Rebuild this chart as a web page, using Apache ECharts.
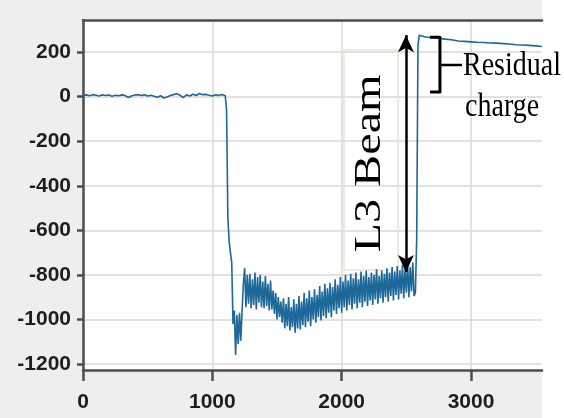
<!DOCTYPE html>
<html>
<head>
<meta charset="utf-8">
<script src="https://cdn.jsdelivr.net/npm/echarts@6/dist/echarts.min.js"></script>
<style>
  html, body { margin: 0; padding: 0; background: #ffffff; }
  #chart { width: 564px; height: 418px; }
</style>
</head>
<body>
<div id="chart"></div>
<script>
// Signal before the beam arrives (sampled every 25 time units from 0)
const baselineStart = 0;
const baselineStep = 25;
const baselineSignal = [5, 8, 4, 9, 6, 3, 8, 5, 7, 2, 6, 4, 8, 5, -4, 3, 7, 9, 5, 8,
  3, 6, 2, -3, 4, -6, -2, 5, 9, 13, 6, -4, 8, 3, 11, 5, 14, 9, 10, 6, 3, 8, 5, 10, 4];

// Signal while the L3 beam passes (sampled every 10 time units from 1110)
const beamStart = 1110;
const beamStep = 10;
const beamSignal = [
  -60, -540, -650, -700, -745, -1020, -960, -1160, -980, -1110,
  -970, -1095, -960, -840, -770, -945, -800, -930, -795, -950,
  -820, -935, -790, -955, -810, -925, -800, -945, -830, -950,
  -805, -940, -840, -960, -825, -955, -870, -975, -880, -1000,
  -900, -990, -920, -1015, -905, -1040, -930, -1030, -900, -1050,
  -945, -1035, -910, -1060, -930, -1040, -895, -1045, -920, -1025,
  -880, -1035, -905, -1010, -870, -1030, -900, -1000, -865, -1015,
  -890, -990, -850, -1005, -875, -985, -840, -995, -860, -970,
  -835, -990, -855, -960, -820, -975, -845, -950, -810, -970,
  -830, -945, -800, -960, -825, -935, -795, -955, -815, -930,
  -790, -950, -820, -925, -785, -945, -805, -920, -780, -940,
  -810, -915, -790, -935, -800, -910, -775, -930, -805, -905,
  -780, -925, -795, -900, -770, -920, -790, -895, -765, -915,
  -785, -890, -760, -910, -780, -885, -755, -905, -770, -880,
  -750, -900, -765, -875, -745, -895, -880
];

// Recovery and residual charge after the beam
const residualTimes = [2580, 2590, 2600, 2650, 2700, 2750, 2800, 2850, 2900, 2950, 3000,
  3050, 3100, 3150, 3200, 3250, 3300, 3350, 3400, 3450, 3500, 3549];
const residualSignal = [-640, 230, 276, 268, 266, 262, 258, 255, 250, 248, 246,
  244, 243, 241, 240, 238, 236, 233, 232, 230, 228, 225];

// Tick labels
const xTicks = [0, 1000, 2000, 3000];
const yTicks = [-1200, -1000, -800, -600, -400, -200, 0, 200];

const points = [];
baselineSignal.forEach((v, i) => points.push([baselineStart + i * baselineStep, v]));
beamSignal.forEach((v, i) => points.push([beamStart + i * beamStep, v]));
residualSignal.forEach((v, i) => points.push([residualTimes[i], v]));

const X_MIN = 0, X_MAX = 3549;
const Y_MIN = -1227, Y_MAX = 344;

const labelFont = {
  fontFamily: "'Liberation Sans', Arial, sans-serif",
  fontWeight: 'bold',
  fontSize: 21,
  color: '#1e1e1e',
  formatter: (v) => String(v)
};
const axisStroke = { color: '#4d4d4d', width: 2.5 };
const serif = "'Liberation Serif', 'DejaVu Serif', serif";

const chart = echarts.init(document.getElementById('chart'), null, { renderer: 'canvas' });

chart.setOption({
  animation: false,
  backgroundColor: '#ffffff',
  grid: {
    left: 83, right: 22, top: 20, bottom: 48,
    outerBoundsMode: 'none', containLabel: false,
    show: true, backgroundColor: '#ffffff', borderWidth: 0
  },
  xAxis: [{
    type: 'value', min: X_MIN, max: X_MAX,
    axisLine: { show: true, onZero: false, lineStyle: axisStroke },
    axisTick: { show: true, length: 11, customValues: xTicks, lineStyle: axisStroke },
    axisLabel: Object.assign({ margin: 22, customValues: xTicks }, labelFont),
    splitLine: { show: true, lineStyle: { color: '#d9d9d9', width: 1.5 } }
  }, {
    type: 'value', position: 'top', min: X_MIN, max: X_MAX,
    axisLine: { show: true, onZero: false, lineStyle: axisStroke },
    axisTick: { show: false }, axisLabel: { show: false }, splitLine: { show: false }
  }],
  yAxis: {
    type: 'value', min: Y_MIN, max: Y_MAX,
    axisLine: { show: true, onZero: false, lineStyle: axisStroke },
    axisTick: { show: true, length: 6, customValues: yTicks, lineStyle: axisStroke },
    axisLabel: Object.assign({ margin: 12, customValues: yTicks }, labelFont),
    splitLine: { show: true, lineStyle: { color: '#d9d9d9', width: 1.5 } }
  },
  series: [{
    type: 'line',
    data: points,
    showSymbol: false,
    sampling: null,
    lineStyle: { color: '#1d6899', width: 1.6 },
    z: 3,
    markArea: {
      silent: true,
      itemStyle: { color: 'rgba(0,0,0,0)', borderColor: '#ece3d2', borderWidth: 1.5 },
      data: [[{ coord: [2018, 209] }, { coord: [2436, -778] }]]
    },
    markLine: {
      silent: true,
      symbol: ['arrow', 'arrow'],
      symbolSize: [12, 17],
      label: { show: false },
      lineStyle: { color: '#000000', width: 2.5, type: 'solid' },
      data: [[{ coord: [2497, 276] }, { coord: [2497, -787] }]]
    }
  }]
});

// Text and bracket annotations, anchored in data space
const px = (t, v) => chart.convertToPixel({ xAxisIndex: 0, yAxisIndex: 0 }, [t, v]);
const beamLabel = px(2223, -300);
const brTop = px(2683, 267), brRight = px(2760, 142), brBottom = px(2683, 21), brTick = px(2930, 142);
const resLabel = px(2938, 137);
const chgLabel = px(2954, -47);

chart.setOption({
  graphic: [
    // light grey figure background up to the plot's right edge
    {
      type: 'rect', z: -10, silent: true,
      shape: { x: 0, y: 0, width: px(X_MAX, 0)[0], height: 418 },
      style: { fill: '#eeeeee' }
    },
    {
      type: 'text', x: beamLabel[0], y: beamLabel[1], rotation: Math.PI / 2, scaleX: 1.27, z: 10,
      style: { text: 'L3 Beam', font: '38px ' + serif, fill: '#000', align: 'center', verticalAlign: 'middle' }
    },
    {
      type: 'polyline', z: 10,
      shape: { points: [[brTop[0], brTop[1]], [brRight[0], brTop[1]], [brRight[0], brBottom[1]], [brTop[0], brBottom[1]]] },
      style: { stroke: '#000', lineWidth: 3, fill: null, lineJoin: 'round' }
    },
    {
      type: 'line', z: 10,
      shape: { x1: brRight[0], y1: brRight[1], x2: brTick[0], y2: brTick[1] },
      style: { stroke: '#000', lineWidth: 2.5 }
    },
    {
      type: 'text', x: resLabel[0], y: resLabel[1], scaleY: 1.2, z: 10,
      style: { text: 'Residual', font: '28px ' + serif, fill: '#000', align: 'left', verticalAlign: 'middle' }
    },
    {
      type: 'text', x: chgLabel[0], y: chgLabel[1], scaleY: 1.2, z: 10,
      style: { text: 'charge', font: '28px ' + serif, fill: '#000', align: 'left', verticalAlign: 'middle' }
    }
  ]
});
</script>
</body>
</html>
